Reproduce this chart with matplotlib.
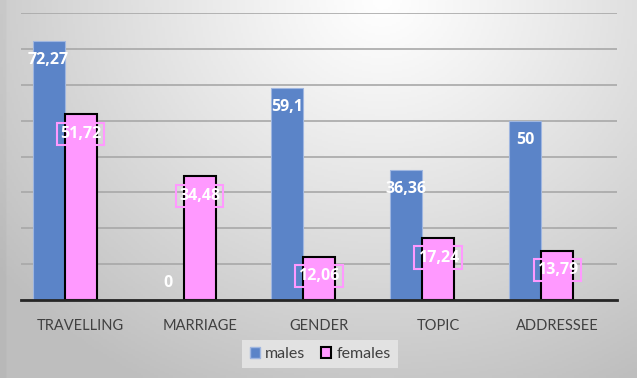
import numpy as np
import matplotlib.pyplot as plt
from matplotlib.patches import Patch

categories = ['TRAVELLING', 'MARRIAGE', 'GENDER', 'TOPIC', 'ADDRESSEE']
males = [72.27, 0, 59.1, 36.36, 50]
females = [51.72, 34.48, 12.06, 17.24, 13.79]
male_labels = ['72,27', '0', '59,1', '36,36', '50']
female_labels = ['51,72', '34,48', '12,06', '17,24', '13,79']

blue = '#5b84c8'
pink = '#ff99ff'
W, H = 640, 386
fig = plt.figure(figsize=(W/100, H/100), dpi=100)
fig.patch.set_facecolor('white')

# gray gradient background of the chart frame
bg = fig.add_axes([0, 1 - 378/H, 637/W, 378/H])
yy, xx = np.mgrid[0:1:200j, 0:1:300j]
d = np.sqrt(((xx - 0.6)/0.7)**2 + (yy/1.05)**2)
val = 255 - 58*np.clip(d, 0, 1.1)**1.1
val[:, :3] -= 6
bg.imshow(np.dstack([val, val, val]).astype(np.uint8), aspect='auto', extent=(0, 1, 0, 1))
bg.set_axis_off()

ax = fig.add_axes([21/W, 1 - 300/H, 596/W, 287/H])
ax.patch.set_alpha(0)
x = np.arange(len(categories))
w = 0.268
ax.bar(x - w, males, w, color=blue, edgecolor='#9fb6e0', linewidth=0.8, zorder=3)
ax.bar(x, females, w, color=pink, edgecolor='black', linewidth=1.5, zorder=3)

ax.set_xlim(-0.5, len(categories) - 0.5)
ax.set_ylim(0, 80)
ax.set_yticks(np.arange(0, 81, 10))
ax.yaxis.grid(True, color='#a8a8a8', linewidth=1.2, zorder=0)
ax.tick_params(axis='y', left=False, labelleft=False)
ax.set_xticks(x)
ax.set_xticklabels(categories, fontsize=10.5, color='#404040', family='Lato')
ax.tick_params(axis='x', length=0, pad=14)
for s in ['top', 'right', 'left']:
    ax.spines[s].set_visible(False)
ax.spines['bottom'].set_color('#262626')
ax.spines['bottom'].set_linewidth(2)
ax.spines['bottom'].set_zorder(4)

for i in range(len(categories)):
    off = -14 if males[i] > 5 else 12
    ax.annotate(male_labels[i], (x[i] - w, males[i]), xytext=(0, off), textcoords='offset points',
                ha='center', va='center', color='white', fontsize=11.5, fontweight='bold',
                family='Open Sans', zorder=5)
    ax.annotate(female_labels[i], (x[i], females[i]), xytext=(0, -14), textcoords='offset points',
                ha='center', va='center', color='white', fontsize=11.5, fontweight='bold',
                family='Open Sans', zorder=5,
                bbox=dict(boxstyle='square,pad=0.2', fc='none', ec='#ff99ff', lw=1.5))

handles = [Patch(facecolor=blue, edgecolor='#9fb6e0', label='males'),
           Patch(facecolor=pink, edgecolor='black', linewidth=1.5, label='females')]
leg = fig.legend(handles=handles, loc='center', bbox_to_anchor=(320/W, 1 - 354/H), ncol=2,
                 frameon=True, fancybox=False, prop={'family': 'Lato', 'size': 11.5},
                 handlelength=0.65, handleheight=0.65, handletextpad=0.3, columnspacing=1.0,
                 borderpad=0.45)
leg.get_frame().set_facecolor('#e2e2e2')
leg.get_frame().set_edgecolor('none')
leg.get_frame().set_alpha(1)
for t in leg.get_texts():
    t.set_color('#404040')

fig.savefig('out.png', dpi=100)
